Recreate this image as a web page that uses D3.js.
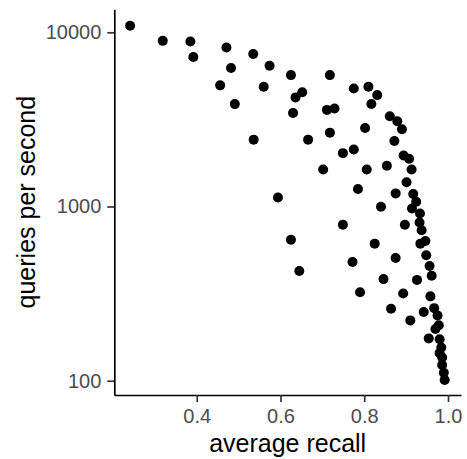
<!DOCTYPE html>
<meta charset="utf-8">
<script src="https://d3js.org/d3.v7.min.js"></script>
<style>
  body { margin: 0; background: #fff; }
  svg text { font-family: "Liberation Sans", Arial, Helvetica, sans-serif; }
</style>
<div id="chart"></div>
<script>
// recall vs throughput, one point per run
const recall = [
  0.241, 0.319, 0.385, 0.392, 0.471, 0.482, 0.456, 0.535, 0.574, 0.560,
  0.491, 0.536, 0.594, 0.625, 0.718, 0.652, 0.636, 0.775, 0.810, 0.831,
  0.817, 0.630, 0.711, 0.729, 0.861, 0.879, 0.890, 0.718, 0.802, 0.666,
  0.872, 0.749, 0.775, 0.894, 0.907, 0.702, 0.806, 0.854, 0.913, 0.901,
  0.785, 0.875, 0.917, 0.924, 0.914, 0.933, 0.840, 0.932, 0.749, 0.897,
  0.937, 0.625, 0.825, 0.934, 0.946, 0.948, 0.772, 0.875, 0.645, 0.956,
  0.961, 0.846, 0.926, 0.790, 0.893, 0.958, 0.864, 0.942, 0.967, 0.975,
  0.910, 0.978, 0.970, 0.954, 0.980, 0.984, 0.980, 0.986, 0.986, 0.990,
  0.992
];
const qps = [
  10900, 8930, 8850, 7220, 8170, 6240, 4960, 7510, 6430, 4870,
  3870, 2420, 1127, 5680, 5680, 4530, 4230, 4760, 4870, 4360,
  3880, 3445, 3585, 3650, 3297, 3085, 2773, 2654, 2822, 2420,
  2375, 2024, 2126, 1963, 1879, 1630, 1630, 1712, 1630, 1377,
  1261, 1189, 1180, 1065, 975, 912, 997, 809, 785, 785,
  731, 645, 612, 612, 634, 525, 480, 506, 426, 455,
  400, 383, 379, 322, 317, 305, 259, 248, 261, 237,
  222, 208, 198, 175, 173, 155, 144, 136, 123, 111,
  101
];
const xTicks = [0.4, 0.6, 0.8, 1.0];
const yTicks = [100, 1000, 10000];

const width = 467, height = 459;
const margin = {top: 9.3, right: 6, bottom: 64, left: 114.3};

const points = recall.map((r, i) => ({recall: r, qps: qps[i]}));

const svg = d3.select("#chart").append("svg")
    .attr("width", width)
    .attr("height", height);

const x = d3.scaleLinear()
    .domain([0.2033, 1.031])
    .range([margin.left, width - margin.right]);

const y = d3.scaleLog()
    .domain([Math.pow(10, 1.918), Math.pow(10, 4.132)])
    .range([height - margin.bottom, margin.top]);

// points
svg.append("g")
  .selectAll("circle")
  .data(points)
  .join("circle")
    .attr("cx", d => x(d.recall))
    .attr("cy", d => y(d.qps))
    .attr("r", 5)
    .attr("fill", "#000");

// axes
const xAxis = svg.append("g")
    .attr("transform", `translate(0,${height - margin.bottom})`)
    .call(d3.axisBottom(x).tickValues(xTicks).tickFormat(d3.format(".1f")).tickSize(7).tickSizeOuter(0).tickPadding(7));

const yAxis = svg.append("g")
    .attr("transform", `translate(${margin.left},0)`)
    .call(d3.axisLeft(y).tickValues(yTicks).tickFormat(d3.format("d")).tickSize(7).tickSizeOuter(0).tickPadding(6));

[xAxis, yAxis].forEach(g => {
  g.select(".domain").attr("stroke", "#000").attr("stroke-width", 1.7);
  g.selectAll(".tick line").attr("stroke", "#333").attr("stroke-width", 1.7);
  g.selectAll(".tick text").attr("fill", "#4d4d4d").style("font-size", "20px");
});

// titles
svg.append("text")
    .attr("x", (margin.left + width - margin.right) / 2)
    .attr("y", 452)
    .attr("text-anchor", "middle")
    .style("font-size", "25px")
    .attr("fill", "#000")
    .text("average recall");

svg.append("text")
    .attr("transform", `translate(35,${(margin.top + height - margin.bottom) / 2}) rotate(-90)`)
    .attr("text-anchor", "middle")
    .style("font-size", "25px")
    .attr("fill", "#000")
    .text("queries per second");
</script>
